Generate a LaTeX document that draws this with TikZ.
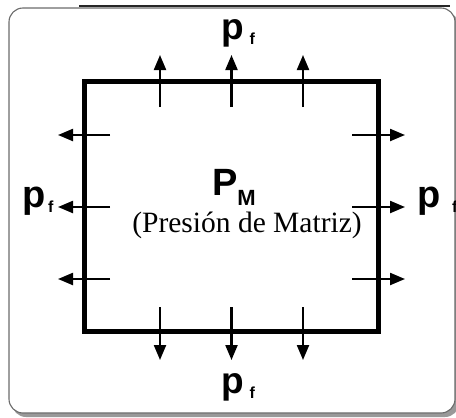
\documentclass[tikz,border=0pt]{standalone}
\usepackage{fontspec}
\setmainfont{Liberation Serif}
\setsansfont{Liberation Sans}
\usetikzlibrary{arrows.meta,calc}
\tikzset{
  force/.style={line width=2.2pt,-{Triangle[length=15pt,width=12pt]}},
  lbl/.style={anchor=base west,inner sep=0pt,outer sep=0pt},
  frame/.style={draw=black!58,line width=1.1pt,rounded corners=14pt,fill=white},
}
\newcommand{\pflabel}[2]{{\sffamily\bfseries\fontsize{#1}{#1}\selectfont p\hspace{#2}\raisebox{-5.5pt}{\fontsize{16}{16}\selectfont f}}}
\begin{document}
\begin{tikzpicture}[x=1pt,y=-1pt]
\useasboundingbox (0,0) rectangle (456,418);
% outer frame with shadow
\fill[black!40,rounded corners=14pt] (12,12) rectangle (459,417);
\draw[frame] (9,8) rectangle (455,413);
\draw[line width=1.6pt,black!85] (79,6.2) -- (450,6.2);
% matrix square
\node[draw,line width=5.5pt,minimum width=293.8pt,minimum height=250.2pt,inner sep=0pt] (sq) at (231.6,206.6) {};
% top arrows
\coordinate (t1s) at (160,107); \coordinate (t1e) at (160,55);
\coordinate (t2s) at (231.5,107); \coordinate (t2e) at (231.5,55);
\coordinate (t3s) at (303,107); \coordinate (t3e) at (303,55);
\draw[force] (t1s) -- (t1e);
\draw[force] (t2s) -- (t2e);
\draw[force] (t3s) -- (t3e);
% bottom arrows
\coordinate (b1s) at (160,307); \coordinate (b1e) at (160,360);
\coordinate (b2s) at (231.5,307); \coordinate (b2e) at (231.5,360);
\coordinate (b3s) at (303,307); \coordinate (b3e) at (303,360);
\draw[force] (b1s) -- (b1e);
\draw[force] (b2s) -- (b2e);
\draw[force] (b3s) -- (b3e);
% left arrows
\coordinate (l1s) at (110,135); \coordinate (l1e) at (58,135);
\coordinate (l2s) at (110,207); \coordinate (l2e) at (58,207);
\coordinate (l3s) at (110,279); \coordinate (l3e) at (58,279);
\draw[force] (l1s) -- (l1e);
\draw[force] (l2s) -- (l2e);
\draw[force] (l3s) -- (l3e);
% right arrows
\coordinate (r1s) at (352,135); \coordinate (r1e) at (405,135);
\coordinate (r2s) at (352,207); \coordinate (r2e) at (405,207);
\coordinate (r3s) at (352,279); \coordinate (r3e) at (405,279);
\draw[force] (r1s) -- (r1e);
\draw[force] (r2s) -- (r2e);
\draw[force] (r3s) -- (r3e);
% labels
\node[lbl] (pftop) at (221,39) {\pflabel{37}{6pt}};
\node[lbl] (pfbot) at (221,393) {\pflabel{37}{6pt}};
\node[lbl] (pfleft) at (23,207) {\pflabel{38}{2pt}};
\node[lbl] (pfright) at (417,207) {\pflabel{38}{12pt}};
\node[lbl] (pm) at (212,195) {\sffamily\bfseries\fontsize{38}{38}\selectfont P\raisebox{-10pt}{\fontsize{22}{22}\selectfont M}};
\node[anchor=base,inner sep=0pt] (pmtxt) at (247,232) {\fontsize{29.5}{29.5}\selectfont (Presión de Matriz)};
\end{tikzpicture}
\end{document}
